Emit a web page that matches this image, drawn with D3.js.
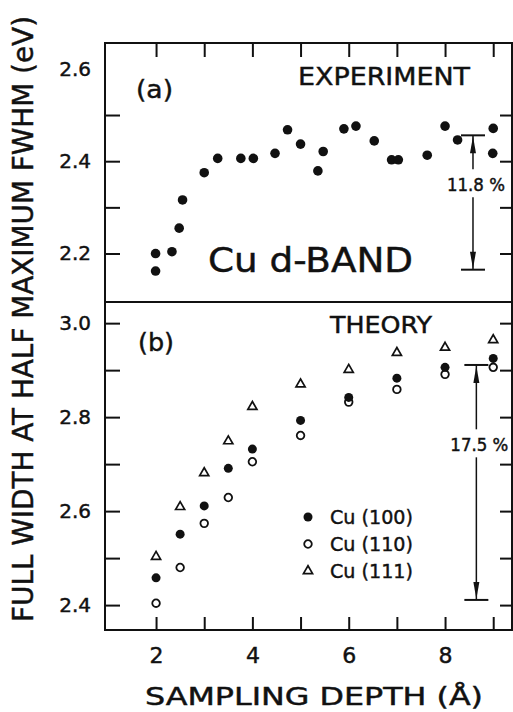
<!DOCTYPE html>
<html>
<head>
<meta charset="utf-8">
<script src="https://cdn.jsdelivr.net/npm/d3@7"></script>
<style>
  html, body { margin: 0; padding: 0; background: #fff; }
  text { font-family: "DejaVu Sans", sans-serif; fill: #111; stroke: #111; stroke-width: 0.45px; }
</style>
</head>
<body>
<div id="vis"></div>
<script>
// (a) experiment
const depthExp = [1.99, 1.99, 2.33, 2.48, 2.55, 3.0, 3.28, 3.76, 4.02, 4.47, 4.73, 5.0,
  5.36, 5.47, 5.9, 6.15, 6.53, 6.89, 7.03, 7.63, 8.0, 8.26, 9.0, 8.99];
const fwhmExp = [2.2, 2.162, 2.204, 2.255, 2.316, 2.375, 2.406, 2.406, 2.406, 2.417, 2.468, 2.437,
  2.379, 2.421, 2.47, 2.476, 2.444, 2.403, 2.403, 2.413, 2.476, 2.446, 2.471, 2.417];

// (b) theory
const depthTh = [2, 2.5, 3, 3.5, 4, 5, 6, 7, 8, 9];
const cu100 = [2.458, 2.551, 2.611, 2.691, 2.732, 2.793, 2.842, 2.883, 2.906, 2.925];
const cu110 = [2.404, 2.48, 2.574, 2.629, 2.705, 2.761, 2.832, 2.859, 2.891, 2.906];
const cu111 = [2.503, 2.609, 2.681, 2.749, 2.822, 2.87, 2.901, 2.937, 2.948, 2.964];
const seriesNames = ["Cu (100)", "Cu (110)", "Cu (111)"];

// spread markers: [x, top, bottom, label y]
const spreadExp = [8.58, 2.456, 2.165, 2.348];
const spreadTh = [8.65, 2.911, 2.411, 2.74];
const spreadLabels = ["11.8 %", "17.5 %"];

const xTicks = [2, 3, 4, 5, 6, 7, 8, 9];
const xLabels = [2, 4, 6, 8];
const yTicksA = [2.2, 2.3, 2.4, 2.5];
const yLabelsA = [2.2, 2.4, 2.6];
const yTicksB = [2.4, 2.5, 2.6, 2.7, 2.8, 2.9, 3.0];
const yLabelsB = [2.4, 2.6, 2.8, 3.0];

const W = 513, H = 712;
const frameL = 105, frameR = 512, frameT = 43, frameM = 302, frameB = 630;

const svg = d3.select("#vis").append("svg")
  .attr("width", W).attr("height", H);
svg.append("rect").attr("width", W).attr("height", H).attr("fill", "#fff");

const x = d3.scaleLinear().domain([0.94, 9.39]).range([frameL, frameR]);
const yA = d3.scaleLinear().domain([2.095, 2.656]).range([frameM, frameT]);
const yB = d3.scaleLinear().domain([2.347, 3.045]).range([frameB, frameM]);

// frames
[[frameT, frameM], [frameM, frameB]].forEach(([y0, y1]) => {
  svg.append("rect")
    .attr("x", frameL).attr("y", y0)
    .attr("width", frameR - frameL).attr("height", y1 - y0)
    .attr("fill", "none").attr("stroke", "#111").attr("stroke-width", 2);
});

function styleAxis(g) {
  g.select(".domain").remove();
  g.selectAll(".tick line").attr("stroke", "#111").attr("stroke-width", 2);
  g.selectAll("text").attr("fill", "#111").attr("font-family", "'DejaVu Sans', sans-serif");
}

// tick marks, pointing inward
svg.append("g").attr("transform", `translate(0,${frameT})`)
  .call(d3.axisBottom(x).tickValues(xTicks).tickSize(14).tickFormat(""))
  .call(styleAxis);
svg.append("g").attr("transform", `translate(0,${frameB})`)
  .call(d3.axisTop(x).tickValues(xTicks).tickSize(13).tickFormat(""))
  .call(styleAxis);
svg.append("g").attr("transform", `translate(0,${frameB})`)
  .call(d3.axisBottom(x).tickValues(xLabels).tickSize(0).tickPadding(17).tickFormat(d3.format("d")))
  .call(styleAxis)
  .selectAll("text").attr("font-size", 22);

[[yA, yTicksA, yLabelsA], [yB, yTicksB, yLabelsB]].forEach(([y, ticks, labels]) => {
  svg.append("g").attr("transform", `translate(${frameL},0)`)
    .call(d3.axisRight(y).tickValues(ticks).tickSize(15).tickFormat(""))
    .call(styleAxis);
  svg.append("g").attr("transform", `translate(${frameR},0)`)
    .call(d3.axisLeft(y).tickValues(ticks).tickSize(12).tickFormat(""))
    .call(styleAxis);
  svg.append("g").attr("transform", `translate(${frameL},0)`)
    .call(d3.axisLeft(y).tickValues(labels).tickSize(0).tickPadding(14).tickFormat(d3.format(".1f")))
    .call(styleAxis)
    .selectAll("text").attr("font-size", 20);
});

// axis titles
svg.append("text")
  .attr("transform", `translate(33,${(14 + 624) / 2}) rotate(-90)`)
  .attr("text-anchor", "middle")
  .attr("font-size", 28)
  .attr("textLength", 606).attr("lengthAdjust", "spacingAndGlyphs")
  .text("FULL WIDTH AT HALF MAXIMUM FWHM (eV)");
svg.append("text")
  .attr("x", 145).attr("y", 705)
  .attr("font-size", 24)
  .attr("textLength", 338).attr("lengthAdjust", "spacingAndGlyphs")
  .text("SAMPLING DEPTH (Å)");

// panel texts
function label(txt, px, py, size, len) {
  const t = svg.append("text").attr("x", px).attr("y", py).attr("font-size", size).text(txt);
  if (len) t.attr("textLength", len).attr("lengthAdjust", "spacingAndGlyphs");
  return t;
}
label("(a)", 136, 98, 24, 37);
label("EXPERIMENT", 298, 85, 24, 172);
label("Cu d-BAND", 208, 272, 33, 205);
label("(b)", 138, 351, 24, 36);
label("THEORY", 330, 333, 23, 102);

// experiment points
svg.append("g").selectAll("circle")
  .data(d3.zip(depthExp, fwhmExp))
  .join("circle")
  .attr("cx", (d) => x(d[0]))
  .attr("cy", (d) => yA(d[1]))
  .attr("r", 4.8)
  .attr("fill", "#111");

// theory points
const tri = d3.symbol().type(d3.symbolTriangle).size(36);
function drawMarker(sel, kind) {
  if (kind === 0) {
    sel.append("circle").attr("r", 4.5).attr("fill", "#111");
  } else if (kind === 1) {
    sel.append("circle").attr("r", 3.8).attr("fill", "#fff")
      .attr("stroke", "#111").attr("stroke-width", 1.8);
  } else {
    sel.append("path").attr("d", tri).attr("fill", "none")
      .attr("stroke", "#111").attr("stroke-width", 1.7);
  }
}

[cu111, cu110, cu100].forEach((vals, i) => {
  const kind = 2 - i;
  svg.append("g").selectAll("g")
    .data(d3.zip(depthTh, vals))
    .join("g")
    .attr("transform", (d) => `translate(${x(d[0])},${yB(d[1])})`)
    .each(function () { drawMarker(d3.select(this), kind); });
});

// legend
const legend = svg.append("g").selectAll("g")
  .data(seriesNames)
  .join("g")
  .attr("transform", (d, i) => `translate(308,${517 + i * 27})`);
legend.each(function (d, i) { drawMarker(d3.select(this), i); });
legend.append("text")
  .attr("x", 22).attr("y", 7)
  .attr("font-size", 20)
  .attr("textLength", 83).attr("lengthAdjust", "spacingAndGlyphs")
  .text((d) => d);

// spread arrows
function spread(y, s, txt) {
  const [xv, hi, lo, mv] = s;
  const px = x(xv), y0 = y(hi), y1 = y(lo), ym = y(mv);
  const g = svg.append("g").attr("stroke", "#111").attr("fill", "#111");
  g.append("line").attr("x1", px - 12).attr("x2", px + 12).attr("y1", y0).attr("y2", y0).attr("stroke-width", 2);
  g.append("line").attr("x1", px - 12).attr("x2", px + 12).attr("y1", y1).attr("y2", y1).attr("stroke-width", 2);
  g.append("line").attr("x1", px).attr("x2", px).attr("y1", y0).attr("y2", ym - 16).attr("stroke-width", 1.5);
  g.append("line").attr("x1", px).attr("x2", px).attr("y1", ym + 12).attr("y2", y1).attr("stroke-width", 1.5);
  g.append("path").attr("stroke", "none")
    .attr("d", `M${px},${y0 + 1}L${px - 3},${y0 + 18}L${px + 3},${y0 + 18}Z`);
  g.append("path").attr("stroke", "none")
    .attr("d", `M${px},${y1 - 1}L${px - 3},${y1 - 18}L${px + 3},${y1 - 18}Z`);
  svg.append("text")
    .attr("x", px + 3).attr("y", ym + 6)
    .attr("text-anchor", "middle")
    .attr("font-size", 17)
    .attr("textLength", 58).attr("lengthAdjust", "spacingAndGlyphs")
    .text(txt);
}
spread(yA, spreadExp, spreadLabels[0]);
spread(yB, spreadTh, spreadLabels[1]);
</script>
</body>
</html>
